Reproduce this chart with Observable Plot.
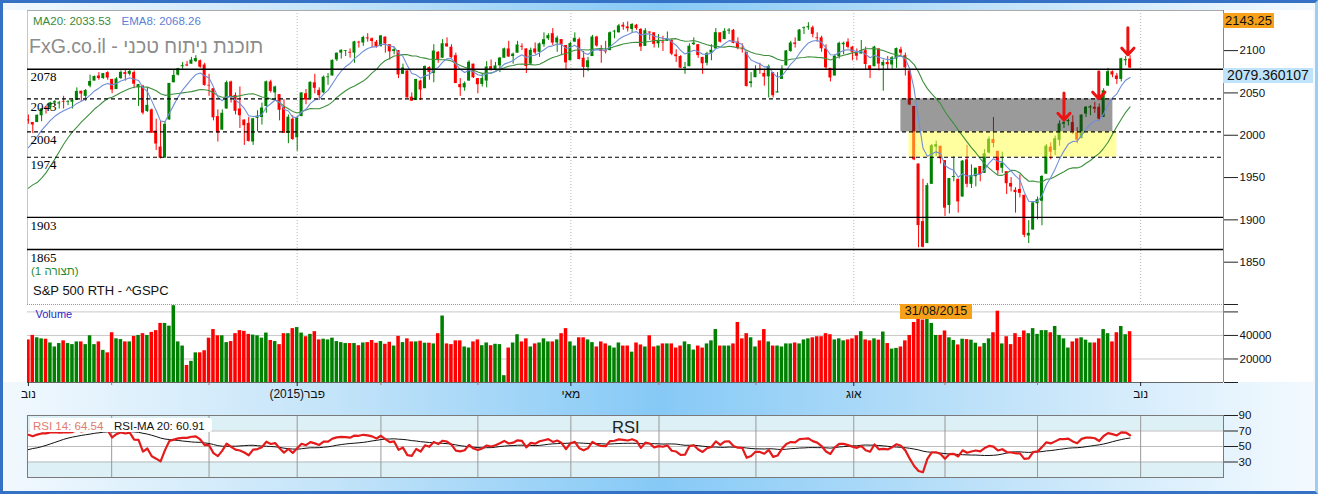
<!DOCTYPE html>
<html><head><meta charset="utf-8">
<script src="https://cdn.jsdelivr.net/npm/d3@7"></script>
<script src="https://cdn.jsdelivr.net/npm/@observablehq/plot@0.6"></script>
<style>
body{margin:0;background:#fff;}
#wrap{position:relative;width:1318px;height:494px;overflow:hidden;background:linear-gradient(to right,#f2f9fe 0%,#c4e4f9 25%,#86c9f6 50%,#bfe2f9 75%,#f4faff 100%);font-family:"Liberation Sans",Arial,sans-serif;}
.abs{position:absolute;white-space:nowrap;line-height:1;}
.plot{position:absolute;left:0;}
.plot svg{overflow:visible;}
</style></head><body>
<div id="wrap">
  <div class="abs" style="left:3px;top:10px;width:1310px;height:372px;background:#fff"></div>
  <div id="pPrice" class="plot" style="top:10px"></div>
  <div id="pVol" class="plot" style="top:304px"></div>
  <div id="pRsi" class="plot" style="top:415px"></div>

  <div class="abs" style="left:33px;top:15.5px;font-size:11.5px;color:#3a8a3a">MA20: 2033.53</div>
  <div class="abs" style="left:121.5px;top:15.5px;font-size:11.5px;color:#5a7fd6">EMA8: 2068.26</div>
  <div class="abs" style="left:29px;top:36.5px;font-size:19.5px;color:#8c8c8c">FxG.co.il - תוכנת ניתוח טכני</div>
  <div class="abs" style="left:31px;top:265.5px;font-size:11.5px;color:#2a8a2a">(תצורה 1)</div>
  <div class="abs" style="left:33px;top:284px;font-size:13px;color:#111">S&amp;P 500 RTH - ^GSPC</div>
  <div class="abs" style="left:35.5px;top:308.5px;font-size:11px;color:#2828c8">Volume</div>
  <div class="abs" style="left:900px;top:304px;width:72px;height:15px;background:#f7a11a;font-size:12.5px;color:#111;text-align:center;line-height:15px">31/08/2015</div>
  <div class="abs" style="left:1223px;top:13px;width:51px;height:15px;background:#f7a11a;font-size:13px;color:#111;text-align:center;line-height:15px">2143.25</div>
  <div class="abs" style="left:1223px;top:68px;width:90px;height:15px;background:#bfe3fb;font-size:14px;color:#111;text-align:center;line-height:15px">2079.360107</div>
  <div class="abs" style="left:30px;top:418px;width:182px;height:14px;background:#fff;border-radius:0 3px 3px 0"></div>
  <div class="abs" style="left:33px;top:421px;font-size:11.5px;color:#e07a6a">RSI 14: 64.54</div>
  <div class="abs" style="left:114px;top:421px;font-size:11.5px;color:#111">RSI-MA 20: 60.91</div>
  <div class="abs" style="left:612px;top:418.5px;font-size:16.5px;color:#222">RSI</div>
  <div class="abs" style="left:0;top:0;width:1318px;height:494px;box-sizing:border-box;border:3px solid #3571c4;border-right-color:#9fcdf2"></div>
</div>
<script>
// ---- data: S&P 500 daily, 3 Nov 2014 .. 30 Oct 2015 ----
const priorCloses = [1997.92,2000.02,2000.12,1996.74,2003.37,
2002.28,2000.72,1997.65,2007.71,2001.54,1988.44,1995.69,1997.45,1985.54,1984.13,1998.98,2001.57,2011.36,2010.40,1994.29,1982.77,1998.30,1965.99,1982.85,1977.80,1972.29,
1946.16,1946.17,1967.90,1964.82,1935.10,1968.89,1928.21,1906.13,1874.74,1877.70,1862.49,1862.76,1886.76,1904.01,1941.28,1927.11,1950.82,1964.58,1961.63,1985.05,1982.30,1994.65,2018.05];

const open = [2018,2015,2015,2023,2032,2032,2038,2037,2040,2039,2039,2041,2052,2046,2058,2064,2070,2067,2074,
2066,2054,2067,2074,2072,2074,2056,2058,2028,2030,2005,1986,1973,2018,2062,2071,2081,2083,2084,2087,2088,2083,
2059,2055,2022,2006,2031,2063,2047,2031,2018,2014,1992,2020,2021,2034,2063,2050,2048,2033,2002,2019,
1997,2022,2049,2043,2062,2053,2050,2068,2070,2089,2097,2099,2098,2097,2110,2109,2115,2114,2110,
2105,2116,2107,2099,2100,2072,2076,2045,2041,2064,2055,2080,2073,2098,2091,2108,2104,2094,2060,2056,2064,2084,
2067,2060,2064,2081,2077,2082,2091,2102,2093,2097,2105,2102,2084,2102,2098,2107,2114,2120,2109,2113,2106,
2088,2110,2113,2091,2080,2093,2116,2102,2100,2100,2122,2121,2130,2128,2125,2130,2125,2105,2122,2121,
2108,2110,2111,2112,2095,2093,2079,2081,2107,2107,2092,2085,2097,2102,2121,2113,2123,2124,2110,2102,2098,2061,
2068,2078,2073,2069,2074,2050,2066,2082,2099,2109,2111,2126,2127,2127,2115,2115,2102,2079,2070,2093,2107,2110,
2104,2097,2096,2100,2082,2081,2102,2082,2086,2083,2090,2101,2094,2076,2034,1966,1898,1872,1942,1986,1987,
1970,1917,1950,1948,1927,1971,1942,1951,1963,1955,1979,1995,1981,1961,1957,1943,1935,1936,1929,1881,1888,
1919,1922,1954,1986,1982,1994,2013,2016,2015,2003,1996,2025,2032,2033,2033,2021,2058,2075,2070,2066,2088,2090];

const high = [2024,2015,2024,2031,2034,2039,2041,2040,2046,2041,2043,2056,2052,2054,2071,2070,2074,2073,2075,
2066,2068,2076,2078,2077,2076,2060,2059,2056,2031,2019,2017,2016,2061,2077,2079,2086,2087,2092,2094,2089,2085,
2072,2055,2030,2030,2064,2064,2050,2057,2018,2021,2020,2029,2038,2064,2065,2058,2048,2042,2024,2023,
2022,2050,2054,2063,2072,2056,2070,2073,2089,2097,2101,2100,2102,2111,2111,2117,2120,2115,2112,
2118,2116,2107,2104,2100,2084,2076,2050,2066,2065,2082,2081,2107,2099,2113,2115,2107,2097,2067,2063,2088,2084,
2067,2072,2087,2089,2086,2092,2103,2111,2097,2111,2108,2102,2103,2109,2109,2121,2120,2126,2117,2113,2106,
2110,2121,2115,2099,2092,2118,2117,2106,2111,2122,2124,2131,2133,2134,2132,2131,2126,2126,2122,2121,
2119,2117,2122,2113,2101,2094,2086,2108,2115,2107,2092,2098,2107,2126,2121,2126,2126,2125,2115,2108,2098,2074,
2082,2085,2078,2083,2074,2074,2082,2100,2111,2115,2125,2128,2133,2129,2121,2117,2107,2079,2095,2110,2110,2114,
2105,2102,2112,2104,2082,2105,2102,2089,2093,2093,2103,2104,2097,2076,2034,1966,1948,1943,1989,1993,1987,
1970,1949,1975,1948,1970,1988,1965,1961,1963,1983,1998,2021,1981,1980,1957,1950,1938,1953,1929,1899,1921,
1927,1952,1989,1991,1999,2017,2021,2019,2023,2009,2024,2034,2035,2039,2037,2055,2079,2076,2073,2091,2093,2094];

const low = [2013,2002,2015,2016,2025,2030,2035,2031,2031,2035,2031,2041,2040,2040,2056,2064,2065,2066,2065,
2049,2054,2066,2064,2070,2055,2034,2024,2027,2002,1982,1972,1973,2018,2062,2070,2078,2081,2084,2086,2079,2058,
2046,2017,1992,2006,2031,2038,2024,2008,1988,1992,1988,2004,2012,2026,2050,2041,2017,2002,1990,1994,
1981,2022,2036,2043,2049,2041,2049,2059,2070,2087,2090,2093,2091,2085,2103,2105,2110,2103,2103,
2104,2097,2089,2095,2067,2072,2044,2040,2041,2041,2055,2065,2062,2085,2091,2104,2091,2061,2046,2052,2064,2067,
2049,2057,2056,2076,2076,2074,2091,2092,2084,2097,2100,2073,2084,2095,2092,2104,2112,2106,2098,2094,2077,
2088,2110,2089,2068,2075,2093,2104,2085,2096,2100,2114,2121,2124,2122,2121,2124,2099,2105,2112,2103,
2103,2099,2111,2094,2086,2079,2072,2081,2106,2091,2072,2082,2088,2102,2109,2113,2119,2108,2101,2097,2057,2056,
2068,2072,2058,2044,2044,2050,2066,2082,2098,2103,2111,2119,2124,2115,2110,2098,2077,2063,2070,2090,2095,2102,
2088,2088,2096,2077,2067,2081,2076,2052,2077,2078,2079,2094,2070,2035,1970,1867,1867,1872,1942,1975,1966,
1904,1907,1945,1908,1927,1938,1937,1939,1945,1955,1978,1985,1953,1955,1930,1933,1908,1926,1879,1872,1888,
1900,1893,1954,1971,1976,1987,2008,2011,2001,1990,1996,2021,2023,2026,2017,2021,2058,2068,2060,2063,2082,2079];

const close = [2017.81,2012.10,2023.57,2031.21,2031.92,2038.26,2039.68,2038.25,2039.33,2039.82,2041.32,2051.80,2048.72,2052.75,2063.50,2069.41,2067.03,2072.83,2067.56,
2053.44,2066.55,2074.33,2071.92,2075.37,2060.31,2059.82,2026.14,2035.33,2002.33,1989.63,1972.74,2012.89,2061.23,2070.65,2078.54,2082.17,2081.88,2088.77,2090.57,2080.35,2058.90,
2058.20,2020.58,2002.61,2025.90,2062.14,2044.81,2028.26,2023.03,2011.27,1992.67,2019.42,2022.55,2032.12,2063.15,2051.82,2057.09,2029.55,2002.16,2021.25,1994.99,
2020.85,2050.03,2041.51,2062.52,2055.47,2046.74,2068.59,2068.53,2088.48,2096.99,2100.34,2099.68,2097.45,2110.30,2109.66,2115.48,2113.86,2110.74,2104.50,
2117.39,2107.78,2098.53,2101.04,2071.26,2079.43,2044.16,2040.24,2065.95,2053.40,2081.19,2074.28,2099.50,2089.27,2108.10,2104.42,2091.50,2061.05,2056.15,2061.02,2086.24,2067.89,
2059.69,2066.96,2080.62,2076.33,2081.90,2091.18,2102.06,2092.43,2095.84,2106.63,2104.99,2081.18,2100.40,2097.29,2107.96,2112.93,2117.69,2108.92,2114.76,2106.85,2085.51,
2108.29,2114.49,2089.46,2080.15,2088.00,2116.10,2105.33,2099.12,2098.48,2121.10,2122.73,2129.20,2127.83,2125.85,2130.82,2126.06,2104.20,2123.48,2120.79,2107.39,
2111.73,2109.60,2114.07,2095.84,2092.83,2079.28,2080.15,2105.20,2108.86,2094.11,2084.43,2096.29,2100.44,2121.24,2109.99,2122.85,2124.20,2108.58,2102.31,2101.49,2057.64,2063.11,
2077.42,2076.78,2068.76,2081.34,2046.68,2051.31,2076.62,2099.60,2108.95,2107.40,2124.29,2126.64,2128.28,2119.21,2114.15,2102.15,2079.65,2067.64,2093.25,2108.57,2108.63,2103.84,
2098.04,2093.32,2099.84,2083.56,2077.57,2104.18,2084.07,2086.05,2083.39,2091.54,2102.44,2096.92,2079.61,2035.73,1970.89,1893.21,1867.61,1940.51,1987.66,1988.87,1972.18,
1913.85,1948.86,1951.13,1921.22,1969.41,1942.04,1952.29,1961.05,1953.03,1978.09,1995.31,1990.20,1958.03,1966.97,1942.74,1938.76,1932.24,1931.34,1881.77,1884.09,1920.03,
1923.82,1951.36,1987.05,1979.92,1995.83,2013.43,2014.89,2017.46,2003.69,1994.24,2023.86,2033.11,2033.66,2030.77,2018.94,2052.51,2075.15,2071.18,2065.89,2090.35,2089.41,2079.36];

const volume = [36200,40000,38000,37100,36800,33600,30200,33100,35400,33100,32200,34500,34500,32200,39700,32200,34500,27300,25200,
42300,37100,36500,34500,34500,39200,40000,41500,40000,42600,44100,50200,50200,47900,65300,34500,31000,14500,18000,25200,25200,27000,
37700,45000,39700,39700,33900,34800,41500,44100,43500,40900,40300,39700,37700,42000,35700,34800,32200,41500,41500,45800,
46700,42000,38900,40900,43200,36200,36800,36200,37700,34800,33900,33100,33100,33100,31300,33600,33900,35700,33400,
34800,32500,34200,31000,39200,33900,37100,34500,34500,35100,33400,33400,32800,41500,56500,
32800,32200,35400,35400,30200,29300,34500,36200,31300,33600,31300,32500,32200,5800,29300,33600,40600,34500,37100,30200,
32800,33600,37100,34500,34500,36200,41500,45800,34500,31000,38000,38000,36200,33900,30200,34500,32800,31000,29300,33600,
31000,31000,25800,33600,31900,30200,39700,30200,31000,32800,32800,32800,29300,31000,34500,32200,27600,31000,29300,32800,
35400,45000,31000,31000,31000,32800,51000,37100,41500,38000,30200,35400,45000,34500,31000,31000,30200,32800,32800,33600,
32800,36200,37100,38000,38900,38900,41500,40600,36200,37100,35400,36200,37100,39700,43200,36200,35400,37100,36000,
42900,33100,28400,29000,30200,35400,40000,51000,53700,53100,53700,50200,40000,40000,43800,38000,35700,31900,36800,36500,
36000,33400,30200,33100,37100,42300,60600,32800,38900,32200,41500,38300,43800,41500,45800,40900,44100,44100,42300,47600,
40000,37100,29300,34500,37100,38000,36000,33600,33600,37100,45000,41500,34500,42300,47600,40600,43200];

// month ticks (trading-day index) and labels
const monthTicks  = [0, 18.9, 41, 61, 80, 102, 123.1, 143.1, 165.1, 187.3, 208, 229, 252.4];
const monthLabels = ["נוב", "", "", "(2015)פבר", "", "", "מאי", "", "", "אוג", "", "", "נוב"];
const majorTicks  = [0, 61, 123.1, 187.3, 252.4];

// horizontal levels
const levelValues = [2078, 2043, 2004, 1974, 1903, 1865];
const levelDashed = [false, true, true, true, false, false];

// zones
const zoneX1 = [198.0, 199.8], zoneX2 = [246.1, 247.0];
const zoneLo = [2004, 1974], zoneHi = [2043, 2004];

// arrows (index, from price, to price)
const arrowIdx = [235, 242.9, 249.5];
const arrowFrom = [2050, 2075, 2127];
const arrowTo = [2018, 2043, 2095];

const priceTicks = [1850, 1900, 1950, 2000, 2050, 2100];
const volTicks = [0, 20000, 40000, 60000, 66300];
const volLabelled = [20000, 40000];
const rsiTicks = [30, 50, 70, 90];

// ---- derived indicators ----
const allC = priorCloses.concat(close);
const off = priorCloses.length;
const ma20 = close.map((_, i) => d3.mean(allC.slice(i + off - 19, i + off + 1)));
let e = allC[0];
const emaAll = allC.map(c => (e = e + (c - e) * 2 / 9));
const rsiAll = new Array(allC.length).fill(NaN);
let ag = 0, al = 0;
for (let j = 1; j < allC.length; j++) {
  const ch = allC[j] - allC[j - 1];
  const g = Math.max(ch, 0), l = Math.max(-ch, 0);
  if (j <= 14) { ag += g / 14; al += l / 14; if (j === 14) rsiAll[j] = 100 - 100 / (1 + ag / al); }
  else { ag = (ag * 13 + g) / 14; al = (al * 13 + l) / 14; rsiAll[j] = 100 - 100 / (1 + ag / al); }
}
const rsiMaAll = rsiAll.map((_, j) => j >= 33 ? d3.mean(rsiAll.slice(j - 19, j + 1)) : NaN);

const rows = close.map((c, i) => ({
  i, o: open[i], h: high[i], l: low[i], c, v: volume[i], up: c >= open[i],
  ma: ma20[i], ema: emaAll[i + off], rsi: rsiAll[i + off], rsiMa: rsiMaAll[i + off]
}));
const levels = levelValues.map((v, k) => ({v, dashed: levelDashed[k]}));
const zones = zoneX1.map((x1, k) => ({x1, x2: zoneX2[k], lo: zoneLo[k], hi: zoneHi[k]}));
const arrows = arrowIdx.map((i, k) => ({i, from: arrowFrom[k], to: arrowTo[k]}));
const labelOf = new Map(monthTicks.map((t, k) => [t, monthLabels[k]]));

const GREEN = "#008000", RED = "#ff0000";
const col = d => d.up ? GREEN : RED;
const XD = [-0.2, 271.2];
const W = 1318, ML = 27, MR = 95;
const FONT = "'Liberation Sans', Arial, sans-serif";

const price = Plot.plot({
  width: W, height: 294, marginLeft: ML, marginRight: MR, marginTop: 0, marginBottom: 0,
  x: {domain: XD, axis: null},
  y: {domain: [1800, 2147.4], axis: null},
  color: {type: "identity"},
  style: {background: "transparent", fontFamily: FONT, color: "#111", overflow: "visible"},
  marks: [
    Plot.ruleX(majorTicks.slice(1), {stroke: "#b8b8b8", strokeDasharray: "1,2"}),
    Plot.ruleX([XD[0]], {stroke: "#c8c8c8"}),
    Plot.ruleY([2147.4], {stroke: "#aaa"}),
    Plot.ruleX(rows, {x: "i", y1: "l", y2: "h", stroke: col, strokeWidth: 1, clip: true}),
    Plot.rect(rows, {x1: d => d.i - 0.34, x2: d => d.i + 0.34, y1: "o", y2: d => (Math.abs(d.c - d.o) < 0.8 ? d.o + (d.up ? 0.9 : -0.9) : d.c), fill: col, clip: true}),
    Plot.rect(zones.slice(0, 1), {x1: "x1", x2: "x2", y1: "lo", y2: "hi", fill: "#222", fillOpacity: 0.46}),
    Plot.rect(zones.slice(1, 2), {x1: "x1", x2: "x2", y1: "lo", y2: "hi", fill: "#ffff40", fillOpacity: 0.5}),
    Plot.line(rows, {x: "i", y: "ma", stroke: "#3d8f3d", strokeWidth: 1.1, clip: true}),
    Plot.line(rows, {x: "i", y: "ema", stroke: "#6f8ed8", strokeWidth: 1.1, clip: true}),
    Plot.ruleY(levels.filter(d => !d.dashed), {y: "v", stroke: "#000", strokeWidth: 1.3}),
    Plot.ruleY(levels.filter(d => d.dashed), {y: "v", stroke: "#000", strokeWidth: 1.2, strokeDasharray: "4,3"}),
    Plot.text(levels, {y: "v", text: d => String(d.v), frameAnchor: "left", dx: 3, dy: 8, textAnchor: "start",
      fontFamily: "'Liberation Serif', 'Times New Roman', serif", fontSize: 13, fill: "#000"}),
    Plot.arrow(arrows, {x1: "i", x2: "i", y1: "from", y2: "to", stroke: "#ee1111", strokeWidth: 3, headAngle: 85, headLength: 14}),
    Plot.ruleX([XD[1]], {stroke: "#888"}),
    Plot.axisY(priceTicks, {anchor: "right", label: null, tickSize: 14, tickPadding: 2, fontSize: 11.5, stroke: "#222",
      tickFormat: d => String(d)})
  ]
});
document.getElementById("pPrice").append(price);

const vol = Plot.plot({
  width: W, height: 102, marginLeft: ML, marginRight: MR, marginTop: 0, marginBottom: 24,
  x: {domain: XD, axis: null},
  y: {domain: [0, 66300], axis: null},
  color: {type: "identity"},
  style: {background: "transparent", fontFamily: FONT, color: "#111", overflow: "visible"},
  marks: [
    Plot.ruleY([20000, 40000, 60000], {stroke: "#c8c8c8"}),
    Plot.ruleY([66300], {stroke: "#999", strokeDasharray: "1,1"}),
    Plot.rect(rows, {x1: d => d.i - 0.4, x2: d => d.i + 0.4, y1: 0, y2: "v", fill: col, clip: true}),
    Plot.ruleY([0], {stroke: "#666"}),
    Plot.ruleX([XD[1]], {stroke: "#888"}),
    Plot.axisY(volTicks, {anchor: "right", label: null, tickSize: 14, tickPadding: 2, fontSize: 11.5, stroke: "#222",
      tickFormat: d => volLabelled.includes(d) ? String(d) : ""}),
    Plot.axisX(monthTicks.filter(t => !majorTicks.includes(t)), {anchor: "bottom", label: null, tickSize: 3, stroke: "#d06060", tickFormat: () => ""}),
    Plot.axisX(majorTicks, {anchor: "bottom", label: null, tickSize: 4, tickPadding: 3, fontSize: 12, stroke: "#222",
      tickFormat: d => labelOf.get(d)})
  ]
});
document.getElementById("pVol").append(vol);

const rsiBands = [{lo: 70, hi: 90, f: "#dcf0f6"}, {lo: 30, hi: 70, f: "#ffffff"}, {lo: 10, hi: 30, f: "#dcf0f6"}];
const rsiPlot = Plot.plot({
  width: W, height: 62, marginLeft: ML, marginRight: MR, marginTop: 0, marginBottom: 0,
  x: {domain: XD, axis: null},
  y: {domain: [10, 90], axis: null},
  color: {type: "identity"},
  style: {background: "transparent", fontFamily: FONT, color: "#111", overflow: "visible"},
  marks: [
    Plot.rect(rsiBands, {x1: XD[0], x2: XD[1], y1: "lo", y2: "hi", fill: "f"}),
    Plot.ruleY([30, 50, 70], {stroke: "#bdbdbd"}),
    Plot.ruleX(monthTicks.slice(1), {stroke: "#999"}),
    Plot.line(rows, {x: "i", y: "rsiMa", stroke: "#111", strokeWidth: 1, clip: true}),
    Plot.line(rows, {x: "i", y: "rsi", stroke: "#e41b1b", strokeWidth: 2.2, clip: true}),
    Plot.frame({stroke: "#7a7a7a"}),
    Plot.axisY(rsiTicks, {anchor: "right", label: null, tickSize: 14, tickPadding: 1, fontSize: 11.5, stroke: "#222",
      tickFormat: d => String(d)})
  ]
});
document.getElementById("pRsi").append(rsiPlot);
</script>
</body></html>
